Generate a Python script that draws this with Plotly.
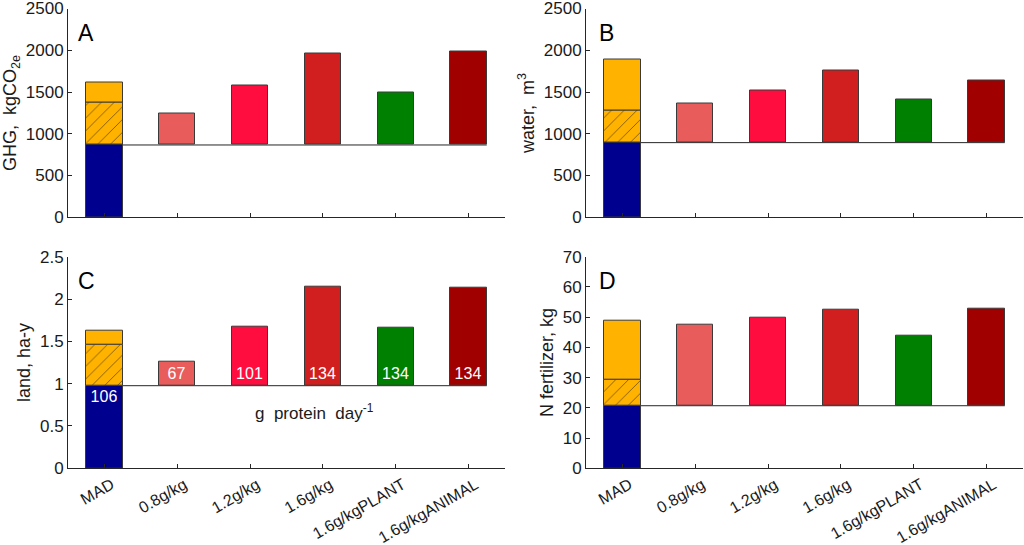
import plotly.graph_objects as go

# ---------------- data ----------------
categories = ["MAD", "0.8g/kg", "1.2g/kg", "1.6g/kg", "1.6g/kgPLANT", "1.6g/kgANIMAL"]
x_pos = [1, 2, 3, 4, 5, 6]

# MAD stacked bar: cumulative tops of [base (blue), hatched, total]
ghg_mad = [866, 1374, 1620]
water_mad = [894, 1273, 1885]
land_mad = [0.976, 1.461, 1.627]
nfert_mad = [20.7, 29.4, 48.7]

# scenario bar tops (bars start at the MAD base value)
ghg_scen = [1248, 1575, 1965, 1496, 1985]
water_scen = [1361, 1518, 1758, 1415, 1636]
land_scen = [1.26, 1.67, 2.143, 1.667, 2.128]
nfert_scen = [47.6, 49.7, 52.5, 43.9, 52.7]

protein_labels = ["106", "67", "101", "134", "134", "134"]

NB = "\u00a0"
y_titles = [f"GHG,{NB}{NB}kgCO<sub>2e</sub>", f"water,{NB}{NB}m<sup>3</sup>",
            "land, ha-y", "N fertilizer, kg"]
protein_note = f"g{NB}{NB}protein{NB}{NB}day<sup>-1</sup>"
panel_letters = ["A", "B", "C", "D"]
y_max = [2500, 2500, 2.5, 70]
y_dtick = [500, 500, 0.5, 10]

# ---------------- styles ----------------
blue = "#00008F"
orange = "#FFB300"
scen_colors = ["#E85C5C", "#FF0D3F", "#D11F1F", "#008000", "#A00000"]
edge = "#3A3A3A"
axis_col = "#262626"
txt_col = "#1a1a1a"
FONT = "Liberation Sans, Arial, Helvetica, sans-serif"
bar_w = 0.5

fig = go.Figure()

panels = [
    (ghg_mad, ghg_scen),
    (water_mad, water_scen),
    (land_mad, land_scen),
    (nfert_mad, nfert_scen),
]

x_domains = [[68 / 1024, 505 / 1024], [586 / 1024, 1023 / 1024]]
y_domains = [[1 - 217.3 / 545, 1 - 8.5 / 545], [1 - 468.3 / 545, 1 - 256.7 / 545]]

for i, (mad, scen) in enumerate(panels):
    n = i + 1
    xa = "x" if n == 1 else f"x{n}"
    ya = "y" if n == 1 else f"y{n}"
    row, col = divmod(i, 2)
    show_text = (i == 2)
    base = mad[0]

    # MAD: blue base
    fig.add_trace(go.Bar(
        x=[x_pos[0]], y=[mad[0]], base=[0], width=bar_w,
        marker=dict(color=blue, line=dict(color=edge, width=1)),
        text=[protein_labels[0]] if show_text else None,
        textposition="inside", insidetextanchor="end",
        textfont=dict(color="white", size=16, family=FONT),
        xaxis=xa, yaxis=ya, showlegend=False, hoverinfo="skip",
    ))
    # MAD: hatched part
    fig.add_trace(go.Bar(
        x=[x_pos[0]], y=[mad[1] - mad[0]], base=[mad[0]], width=bar_w,
        marker=dict(color=orange, line=dict(color=edge, width=1),
                    pattern=dict(shape="/", fgcolor="#000000", bgcolor=orange,
                                 size=9, solidity=0.1)),
        xaxis=xa, yaxis=ya, showlegend=False, hoverinfo="skip",
    ))
    # MAD: solid orange top
    fig.add_trace(go.Bar(
        x=[x_pos[0]], y=[mad[2] - mad[1]], base=[mad[1]], width=bar_w,
        marker=dict(color=orange, line=dict(color=edge, width=1)),
        xaxis=xa, yaxis=ya, showlegend=False, hoverinfo="skip",
    ))
    # scenario floating bars
    fig.add_trace(go.Bar(
        x=x_pos[1:], y=[v - base for v in scen], base=[base] * len(scen), width=bar_w,
        marker=dict(color=scen_colors, line=dict(color=edge, width=1)),
        text=protein_labels[1:] if show_text else None,
        textposition="inside", insidetextanchor="start",
        textfont=dict(color="white", size=16, family=FONT),
        xaxis=xa, yaxis=ya, showlegend=False, hoverinfo="skip",
    ))
    # baseline line
    fig.add_shape(type="line", xref=xa, yref=ya,
                  x0=x_pos[0], x1=x_pos[-1] + bar_w / 2, y0=base, y1=base,
                  line=dict(color=axis_col, width=1), layer="below")

    # panel letter
    fig.add_annotation(text=panel_letters[i], xref=f"{xa} domain", yref=f"{ya} domain",
                       x=0.018 if col == 0 else 0.026, y=0.955, xanchor="left", yanchor="top",
                       showarrow=False, font=dict(size=23, color="#000000", family=FONT))

    xkey = "xaxis" if n == 1 else f"xaxis{n}"
    ykey = "yaxis" if n == 1 else f"yaxis{n}"
    fig.layout[xkey] = dict(
        domain=x_domains[col], anchor=ya, range=[0.5, 6.5],
        tickmode="array", tickvals=x_pos, ticktext=categories,
        showticklabels=(row == 1), tickangle=-30, ticklabelshift=7,
        ticks="inside", ticklen=4, tickcolor=axis_col,
        showline=True, linecolor=axis_col, linewidth=1,
        showgrid=False, zeroline=False, automargin=False,
        tickfont=dict(size=16, color=txt_col, family=FONT),
    )
    fig.layout[ykey] = dict(
        domain=y_domains[row], anchor=xa, range=[0, y_max[i]],
        dtick=y_dtick[i], tick0=0,
        ticks="inside", ticklen=4, tickcolor=axis_col,
        showline=True, linecolor=axis_col, linewidth=1,
        showgrid=False, zeroline=False, automargin=False,
        ticklabeloverflow="allow",
        tickfont=dict(size=17, color=txt_col, family=FONT),
        title=dict(text=y_titles[i], font=dict(size=18, color=txt_col, family=FONT), standoff=4),
    )

# protein annotation in panel C
fig.add_annotation(text=protein_note, xref="x3", yref="y3",
                   x=3.89, y=0.67, showarrow=False,
                   font=dict(size=17, color=txt_col, family=FONT))

fig.update_layout(
    width=1024, height=545,
    margin=dict(l=0, r=0, t=0, b=0),
    paper_bgcolor="white", plot_bgcolor="white",
    barmode="overlay", bargap=0,
    font=dict(family=FONT),
)

fig.write_html("out.html")
